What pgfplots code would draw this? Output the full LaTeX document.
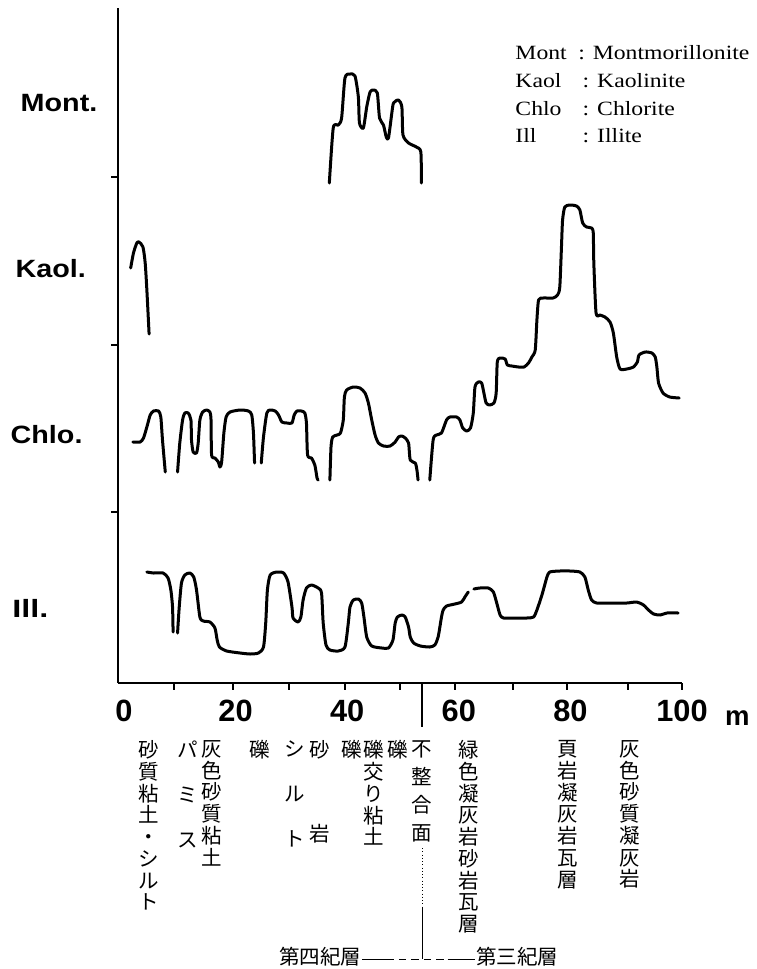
\documentclass[border=0pt]{standalone}
\usepackage{fontspec}
\setmainfont{Liberation Serif}
\setsansfont{Liberation Sans}
\newfontfamily\jp{Noto Sans CJK JP}
\usepackage{pgfplots}
\pgfplotsset{compat=1.18}

% one curve style for all four minerals
\pgfplotsset{curve/.style={black, line width=1.2pt, smooth, tension=0.4, line join=round, line cap=round}}
\tikzset{
  jpv/.style={anchor=north, inner sep=0pt, align=center, font=\jp\fontsize{8.2}{8.7}\selectfont},
  row/.style={anchor=base west, inner sep=0pt, font=\sffamily\bfseries\fontsize{10}{12}\selectfont},
}

\begin{document}
\begin{tikzpicture}
\begin{axis}[
  x=2.232pt, y=0.4pt,
  xmin=-1.1, xmax=100, ymin=0, ymax=675,
  axis lines=left,
  axis line style={-, line width=0.8pt},
  clip=false,
  tick align=outside,
  major tick length=2.6pt,
  tick style={line width=0.8pt, black},
  xtick={9,19.5,29.5,39.6,49.5,59.3,69.7,79.4,90.3,100},
  xticklabels={},
  extra x ticks={0,20,40,60,80,100},
  extra x tick labels={0,20,40,60,80,100},
  extra x tick style={major tick length=0pt, grid=none},
  xticklabel style={anchor=north, inner sep=0pt, yshift=-6.8pt,
    font=\sffamily\bfseries\fontsize{12.3}{14}\selectfont},
  ytick={171,338,506},
  yticklabels={},
]

% Mont
\addplot[curve] coordinates {
  (36.8,500)(37.5,555)(38.4,558)(39.0,565)(39.6,605)(40.5,609)(41.4,607)
  (42.0,586)(42.2,560)(42.9,555)(43.5,576)(44.1,591)(44.7,593)(45.4,590)
  (45.8,565)(46.5,558)(47.0,546)(47.4,545)(48.0,570)(48.3,580)(49.2,583)
  (49.8,576)(50.0,548)(51.0,540)(52.4,536)(53.2,531)(53.3,500)
};

% Kaol
\addplot[curve] coordinates {
  (1.2,415)(1.7,430)(2.3,440)(2.7,441)(3.4,436)(3.8,420)(4.1,393)(4.5,349)
};

% Chlo
\addplot[curve] coordinates {
  (1.6,241)(2.9,241)(3.5,245)(4.1,256)(4.7,268)(5.3,272)(6.2,272)(6.6,266)
  (6.9,243)(7.4,211)
};
\addplot[curve] coordinates {
  (9.6,211)(10.0,240)(10.5,263)(10.9,270)(11.5,270)(12.0,263)(12.1,243)
  (12.4,231)(13.0,230)(13.3,240)(13.6,263)(14.1,271)(14.8,273)(15.4,271)
  (15.6,263)(15.7,228)(16.3,225)(16.9,221)(17.2,216)(17.5,221)(17.9,250)
  (18.3,266)(19.0,271)(20.8,273)(22.3,272)(22.9,268)(23.2,250)(23.4,220)
};
\addplot[curve] coordinates {
  (24.6,220)(25.0,246)(25.6,270)(26.2,273)(27.1,272)(27.7,268)(28.3,261)
  (29.2,260)(30.1,260)(30.5,268)(31.0,272)(31.8,272)(32.4,270)(32.7,260)
  (32.9,228)(33.6,225)(34.2,218)(34.6,205)(34.8,203)
};
\addplot[curve] coordinates {
  (36.9,203)(37.1,236)(37.4,246)(38.2,248)(38.8,250)(39.3,263)(39.5,286)
  (39.9,293)(41.1,296)(42.3,295)(43.2,290)(43.8,280)(44.4,263)(45.0,248)
  (45.6,240)(46.5,237)(47.7,237)(48.6,241)(49.2,246)(49.8,247)(50.4,245)
  (51.0,240)(51.3,223)(52.2,220)(52.5,213)(52.7,203)
};
\addplot[curve] coordinates {
  (54.8,203)(55.4,243)(56.0,248)(56.9,250)(57.8,263)(58.4,266)(59.6,266)
  (60.2,263)(60.7,255)(61.4,252)(62.1,255)(62.6,270)(62.9,296)(63.5,301)
  (64.1,300)(64.5,290)(64.9,280)(65.5,278)(66.3,280)(66.7,290)(66.9,321)
  (67.4,325)(68.3,324)(68.7,318)(69.5,317)(70.7,316)(71.7,316)(72.5,320)
  (73.1,326)(73.7,333)(74.0,363)(74.3,383)(75.1,385)(76.9,385)(77.7,388)
  (78.1,396)(78.4,436)(78.6,463)(79.0,476)(79.9,478)(81.1,477)(81.7,473)
  (82.2,460)(82.9,456)(83.8,455)(84.1,450)(84.2,420)(84.6,370)(85.3,368)
  (86.2,366)(87.1,361)(87.7,350)(88.3,326)(88.9,314)(90.1,314)(91.3,316)
  (92.0,321)(92.3,328)(93.4,331)(94.6,330)(95.2,326)(95.5,316)(95.8,300)
  (96.6,290)(97.8,286)(99.5,285)
};

% Ill
\addplot[curve] coordinates {
  (4.1,111)(5.3,110)(7.0,110)(7.9,105)(8.4,93)(8.7,76)(8.8,51)
};
\addplot[curve] coordinates {
  (9.6,50)(9.9,76)(10.3,100)(10.9,108)(11.8,110)(12.5,106)(13.0,93)(13.6,66)
  (14.2,62)(15.4,61)(16.3,55)(16.7,43)(17.1,36)(18.4,32)(20.8,30)(22.6,29)
  (24.1,30)(25.0,36)(25.4,60)(25.7,93)(26.2,108)(27.4,111)(28.6,110)(29.4,101)
  (30.1,76)(30.3,65)(31.2,61)(31.7,66)(32.1,83)(32.7,95)(33.6,98)(34.8,95)
  (35.4,90)(35.7,60)(36.2,38)(36.9,33)(38.4,32)(39.6,36)(40.2,60)(40.5,76)
  (41.1,83)(42.0,84)(42.6,80)(43.0,66)(43.5,46)(44.4,37)(46.2,35)(47.4,35)
  (48.2,43)(48.6,60)(49.0,66)(49.8,68)(50.4,66)(51.0,56)(51.3,46)(51.9,40)
  (53.1,37)(54.8,36)(55.7,38)(56.3,46)(56.9,66)(57.2,73)(57.8,77)(59.3,79)
  (60.5,81)(61.1,86)(61.7,91)
};
\addplot[curve] coordinates {
  (62.7,94)(63.8,95)(65.3,95)(66.2,91)(66.8,80)(67.4,68)(68.0,65)(69.8,65)
  (72.2,65)(73.4,66)(74.0,73)(74.9,88)(75.8,106)(76.3,111)(78.1,112)(79.9,112)
  (81.7,111)(82.6,106)(83.2,93)(83.8,83)(84.7,80)(87.1,80)(90.1,80)(91.9,81)
  (93.1,78)(94.0,73)(94.9,69)(96.1,68)(97.3,70)(99.3,70)
};

% row names
\node[row] at (axis cs:-18.6,572) {\scalebox{1.15}[1]{Mont.}};
\node[row] at (axis cs:-19.5,406) {\scalebox{1.15}[1]{Kaol.}};
\node[row] at (axis cs:-20.4,240) {\scalebox{1.15}[1]{Chlo.}};
\node[row] at (axis cs:-20.1,66) {\scalebox{1.3}[1]{Ill.}};

% key
\node[anchor=north west, inner sep=0pt, align=left, font=\fontsize{8.1}{11.1}\selectfont]
  at (axis cs:70.07,638) {%
  \scalebox{1.17}[1]{\makebox[21.5pt][l]{Mont}: Montmorillonite}\\
  \scalebox{1.17}[1]{\makebox[23pt][l]{Kaol}: Kaolinite}\\
  \scalebox{1.17}[1]{\makebox[23pt][l]{Chlo}: Chlorite}\\
  \scalebox{1.17}[1]{\makebox[23pt][l]{Ill}: Illite}};

% unit
\node[anchor=base, inner sep=0pt, font=\sffamily\bfseries\fontsize{11}{13}\selectfont]
  at (axis cs:109.9,-42) {m};

% unconformity tick
\draw[line width=0.8pt] (axis cs:53.4,0) -- (axis cs:53.4,-44);

% strata below the axis
\node[jpv] at (axis cs:4.35,-57) {砂\\質\\粘\\土\\・\\シ\\ル\\ト};
\node[jpv] at (axis cs:11.35,-57) {パ\\[9.3pt]ミ\\[9.3pt]ス};
\node[jpv] at (axis cs:15.71,-57) {灰\\色\\砂\\質\\粘\\土};
\node[jpv] at (axis cs:24.37,-57) {礫};
\node[jpv] at (axis cs:30.65,-57) {シ\\[9.3pt]ル\\[9.3pt]ト};
\node[jpv] at (axis cs:35.13,-57) {砂\\[25pt]岩};
\node[jpv] at (axis cs:40.8,-57) {礫};
\node[jpv] at (axis cs:44.68,-57) {礫\\交\\り\\粘\\土};
\node[jpv] at (axis cs:49.05,-57) {礫};
\node[jpv] at (axis cs:53.35,-57) {不\\[2.5pt]整\\[2.5pt]合\\[2.5pt]面};
\node[jpv] at (axis cs:61.7,-57) {緑\\色\\凝\\灰\\岩\\砂\\岩\\瓦\\層};
\node[jpv] at (axis cs:79.6,-57) {頁\\岩\\凝\\灰\\岩\\瓦\\層};
\node[jpv] at (axis cs:90.7,-57) {灰\\色\\砂\\質\\凝\\灰\\岩};

% Quaternary / Tertiary bracket
\draw[line width=0.3pt, densely dotted] (axis cs:53.4,-165) -- (axis cs:53.4,-225);
\draw[line width=0.3pt] (axis cs:53.4,-225) -- (axis cs:53.4,-276);
\draw[line width=0.3pt] (axis cs:42.7,-276) -- (axis cs:47,-276);
\draw[line width=0.3pt, densely dashed] (axis cs:47,-276) -- (axis cs:58,-276);
\draw[line width=0.3pt] (axis cs:58,-276) -- (axis cs:62.9,-276);
\node[anchor=east, inner sep=0pt, font=\jp\fontsize{8.2}{9}\selectfont]
  at (axis cs:42.6,-274) {第四紀層};
\node[anchor=west, inner sep=0pt, font=\jp\fontsize{8.2}{9}\selectfont]
  at (axis cs:63.0,-274) {第三紀層};

\coordinate (bbA) at (axis cs:-22.22,683);
\coordinate (bbB) at (axis cs:113.44,-286);
\end{axis}
\pgfresetboundingbox
\path[use as bounding box] (bbA) rectangle (bbB);
\end{tikzpicture}
\end{document}
